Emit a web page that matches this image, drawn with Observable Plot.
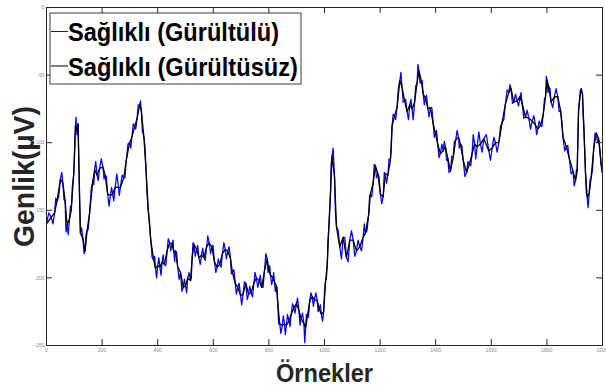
<!DOCTYPE html>
<html>
<head>
<meta charset="utf-8">
<script src="https://cdn.jsdelivr.net/npm/d3@7"></script>
<script src="https://cdn.jsdelivr.net/npm/@observablehq/plot@0.6"></script>
<style>
  html, body { margin: 0; padding: 0; background: #fff; }
  #chart svg { display: block; }
</style>
</head>
<body>
<div id="chart"></div>
<script>
// Noise-free (black) signal: sample index and amplitude (µV)
const cleanX = [0,17,29,38,50,59,67,74,83,89,98,104,108,113,116,122,131,139,146,155,167,173,182,191,203,211,220,230,238,247,259,266,278,287,299,307,317,326,335,341,350,358,366,375,386,392,400,408,416,424,434,443,452,458,464,472,482,492,500,508,518,524,530,540,548,558,566,576,585,595,604,614,623,633,643,652,662,669,679,688,698,707,717,727,736,746,755,765,774,784,794,800,806,815,820,827,832,839,848,856,863,872,880,890,899,908,916,926,932,938,947,956,964,974,981,989,997,1004,1010,1015,1022,1027,1036,1043,1055,1067,1079,1091,1103,1115,1127,1139,1147,1159,1165,1175,1183,1192,1201,1211,1219,1228,1237,1243,1252,1261,1271,1279,1288,1297,1307,1315,1324,1333,1340,1348,1355,1363,1372,1381,1391,1399,1407,1417,1427,1435,1443,1453,1463,1472,1482,1489,1499,1511,1521,1531,1540,1549,1561,1573,1591,1603,1615,1627,1639,1651,1663,1671,1681,1693,1703,1711,1723,1735,1747,1759,1767,1777,1787,1795,1801,1807,1815,1827,1839,1849,1858,1870,1880,1894,1903,1909,1914,1921,1928,1933,1939,1945,1952,1959,1969,1978,1986,1995,2000];
const cleanY = [-160,-155,-152,-143,-127,-130,-143,-161,-156,-150,-123,-88,-91,-86,-111,-167,-171,-180,-165,-152,-128,-120,-124,-119,-118,-124,-138,-139,-138,-133,-133,-133,-126,-113,-100,-96,-88,-82,-72,-76,-95,-120,-150,-172,-187,-193,-191,-192,-188,-190,-180,-174,-175,-181,-180,-192,-196,-207,-206,-200,-202,-185,-175,-179,-185,-183,-185,-177,-174,-177,-188,-192,-190,-182,-179,-180,-186,-196,-204,-207,-213,-212,-204,-212,-211,-204,-200,-202,-207,-195,-186,-195,-198,-200,-203,-206,-219,-234,-235,-234,-235,-232,-227,-222,-219,-224,-230,-234,-237,-229,-217,-214,-216,-217,-223,-227,-225,-202,-190,-165,-135,-110,-125,-162,-177,-170,-185,-172,-172,-180,-177,-170,-167,-153,-138,-130,-117,-123,-138,-140,-123,-124,-113,-88,-80,-74,-54,-59,-69,-77,-72,-75,-70,-56,-47,-54,-64,-67,-75,-74,-86,-93,-101,-108,-106,-103,-111,-121,-111,-98,-96,-101,-113,-122,-116,-108,-101,-103,-101,-97,-106,-104,-100,-100,-85,-71,-63,-60,-70,-69,-66,-71,-81,-82,-84,-87,-90,-87,-79,-66,-54,-59,-70,-66,-66,-76,-96,-103,-111,-121,-128,-121,-76,-61,-64,-89,-123,-140,-138,-126,-103,-93,-97,-116,-120];

// Noisy (blue) signal: extra samples read between the clean ones
const noisyX = [8,23,33,44,55,63,70,78,86,93,101,106,110,114,119,126,135,142,150,161,170,177,186,197,207,215,225,234,242,253,262,272,282,293,303,312,321,330,338,345,354,362,370,380,389,396,404,412,420,429,438,447,455,461,468,477,487,496,504,513,521,527,535,544,553,562,571,580,590,599,609,618,628,638,647,657,665,674,683,693,702,712,722,731,741,750,760,769,779,789,797,803,810,817,823,829,835,843,852,859,867,876,885,894,903,912,921,929,935,942,951,960,969,977,985,993,1000,1007,1012,1018,1024,1031,1039,1049,1061,1073,1085,1097,1109,1121,1133,1143,1153,1162,1170,1179,1187,1196,1206,1215,1223,1232,1240,1247,1256,1266,1275,1283,1292,1302,1311,1319,1328,1336,1344,1351,1359,1367,1376,1386,1395,1403,1412,1422,1431,1439,1448,1458,1467,1477,1485,1494,1505,1516,1526,1535,1544,1555,1567,1582,1597,1609,1621,1633,1645,1657,1667,1676,1687,1698,1707,1717,1729,1741,1753,1763,1772,1782,1791,1798,1804,1811,1821,1833,1844,1853,1864,1875,1887,1898,1906,1911,1917,1924,1930,1936,1942,1948,1955,1964,1973,1982,1990,1998];
const noisyY = [-152,-160,-141,-140,-122,-142,-166,-168,-147,-132,-108,-81,-94,-86,-143,-163,-182,-168,-164,-134,-131,-114,-128,-112,-127,-125,-147,-133,-143,-123,-139,-124,-126,-101,-104,-86,-90,-72,-69,-92,-102,-139,-157,-185,-184,-200,-185,-198,-183,-191,-171,-180,-172,-188,-181,-201,-210,-201,-211,-196,-200,-174,-184,-176,-190,-178,-187,-169,-182,-176,-196,-186,-192,-174,-186,-177,-197,-194,-212,-204,-220,-203,-216,-206,-214,-196,-207,-198,-207,-182,-196,-191,-205,-196,-210,-207,-234,-241,-228,-242,-227,-236,-219,-226,-215,-235,-226,-248,-227,-229,-211,-221,-211,-225,-220,-232,-210,-200,-174,-154,-115,-104,-150,-165,-186,-170,-188,-165,-184,-172,-180,-160,-165,-140,-140,-116,-126,-125,-145,-122,-130,-112,-106,-79,-83,-59,-48,-70,-68,-83,-68,-83,-58,-42,-56,-54,-72,-65,-81,-74,-96,-91,-111,-101,-99,-113,-122,-110,-99,-91,-104,-102,-125,-114,-117,-94,-112,-92,-107,-94,-113,-96,-107,-88,-83,-61,-57,-71,-64,-73,-63,-82,-76,-90,-80,-94,-84,-88,-68,-51,-63,-60,-74,-60,-77,-82,-106,-102,-123,-132,-120,-99,-70,-60,-79,-106,-138,-148,-128,-120,-93,-100,-103,-122];

const xTicks = [0,200,400,600,800,1000,1200,1400,1600,1800,2000];
const yTicks = [-250,-200,-150,-100,-50,0];
const seriesNames = ["Sağlıklı (Gürültülü)", "Sağlıklı (Gürültüsüz)"];
const xLabel = "Örnekler";
const yLabel = "Genlik(µV)";

const clean = cleanX.map((x, i) => ({x, y: cleanY[i]}));
const noisy = clean.concat(noisyX.map((x, i) => ({x, y: noisyY[i]})))
  .sort((a, b) => a.x - b.x);

const W = 606, H = 387, mL = 46, mR = 4, mT = 7, mB = 42;
const pH = H - mT - mB, pW = W - mL - mR;
const FONT = "'Liberation Sans', Arial, Helvetica, sans-serif";

const chart = Plot.plot({
  width: W, height: H,
  marginLeft: mL, marginRight: mR, marginTop: mT, marginBottom: mB,
  style: {fontFamily: FONT, background: "#fff"},
  x: {domain: [0, 2000]},
  y: {domain: [-250, 0]},
  marks: [
    Plot.line(noisy, {x: "x", y: "y", stroke: "#0000ff", strokeWidth: 1.25}),
    Plot.line(clean, {x: "x", y: "y", stroke: "#000000", strokeWidth: 1.3}),
    Plot.frame({stroke: "#262626", strokeWidth: 1}),
    Plot.tickX(xTicks, {x: d => d, insetTop: pH - 6, stroke: "#262626"}),
    Plot.tickX(xTicks, {x: d => d, insetBottom: pH - 6, stroke: "#262626"}),
    Plot.tickY(yTicks, {y: d => d, insetRight: pW - 6, stroke: "#262626"}),
    Plot.tickY(yTicks, {y: d => d, insetLeft: pW - 6, stroke: "#262626"}),
    Plot.axisX({ticks: xTicks, tickSize: 0, tickPadding: 3, fontSize: 5, fill: "#8a8a8a", label: null, tickFormat: d => String(d)}),
    Plot.axisY({ticks: yTicks, tickSize: 0, tickPadding: 2, fontSize: 5, fill: "#8a8a8a", label: null, tickFormat: d => String(d)}),
    Plot.text([xLabel], {text: d => d, frameAnchor: "bottom", dy: 36, lineAnchor: "bottom", textAnchor: "middle",
      fontSize: 26, fontWeight: "bold", fill: "#262626", className: "xlab"}),
    Plot.text([yLabel], {text: d => d, frameAnchor: "left", dx: -12.5, rotate: -90, lineAnchor: "bottom", textAnchor: "middle",
      fontSize: 30, fontWeight: "bold", fill: "#262626", className: "ylab"})
  ]
});

document.getElementById("chart").appendChild(chart);
const svg = d3.select(chart);
svg.selectAll(".xlab text").attr("textLength", 97).attr("lengthAdjust", "spacingAndGlyphs");
svg.selectAll(".ylab text").attr("textLength", 141).attr("lengthAdjust", "spacingAndGlyphs");

// Legend inside the plot area
const lg = svg.append("g").attr("font-family", FONT).attr("text-anchor", "start");
lg.append("rect").attr("x", 50).attr("y", 13).attr("width", 251).attr("height", 71)
  .attr("fill", "#fff").attr("stroke", "#3a3a3a").attr("stroke-width", 1);
const legendColors = ["#0000ff", "#000000"];
const legendRowY = [31.5, 66];
const legendLen = [211, 230];
seriesNames.forEach((name, i) => {
  lg.append("line").attr("x1", 51).attr("x2", 68).attr("y1", legendRowY[i]).attr("y2", legendRowY[i])
    .attr("stroke", legendColors[i]).attr("stroke-width", 1);
  lg.append("text").attr("x", 68).attr("y", legendRowY[i] + 9.5)
    .attr("text-anchor", "start")
    .attr("font-size", 25).attr("font-weight", "bold").attr("fill", "#000")
    .attr("textLength", legendLen[i]).attr("lengthAdjust", "spacingAndGlyphs")
    .text(name);
});
</script>
</body>
</html>
